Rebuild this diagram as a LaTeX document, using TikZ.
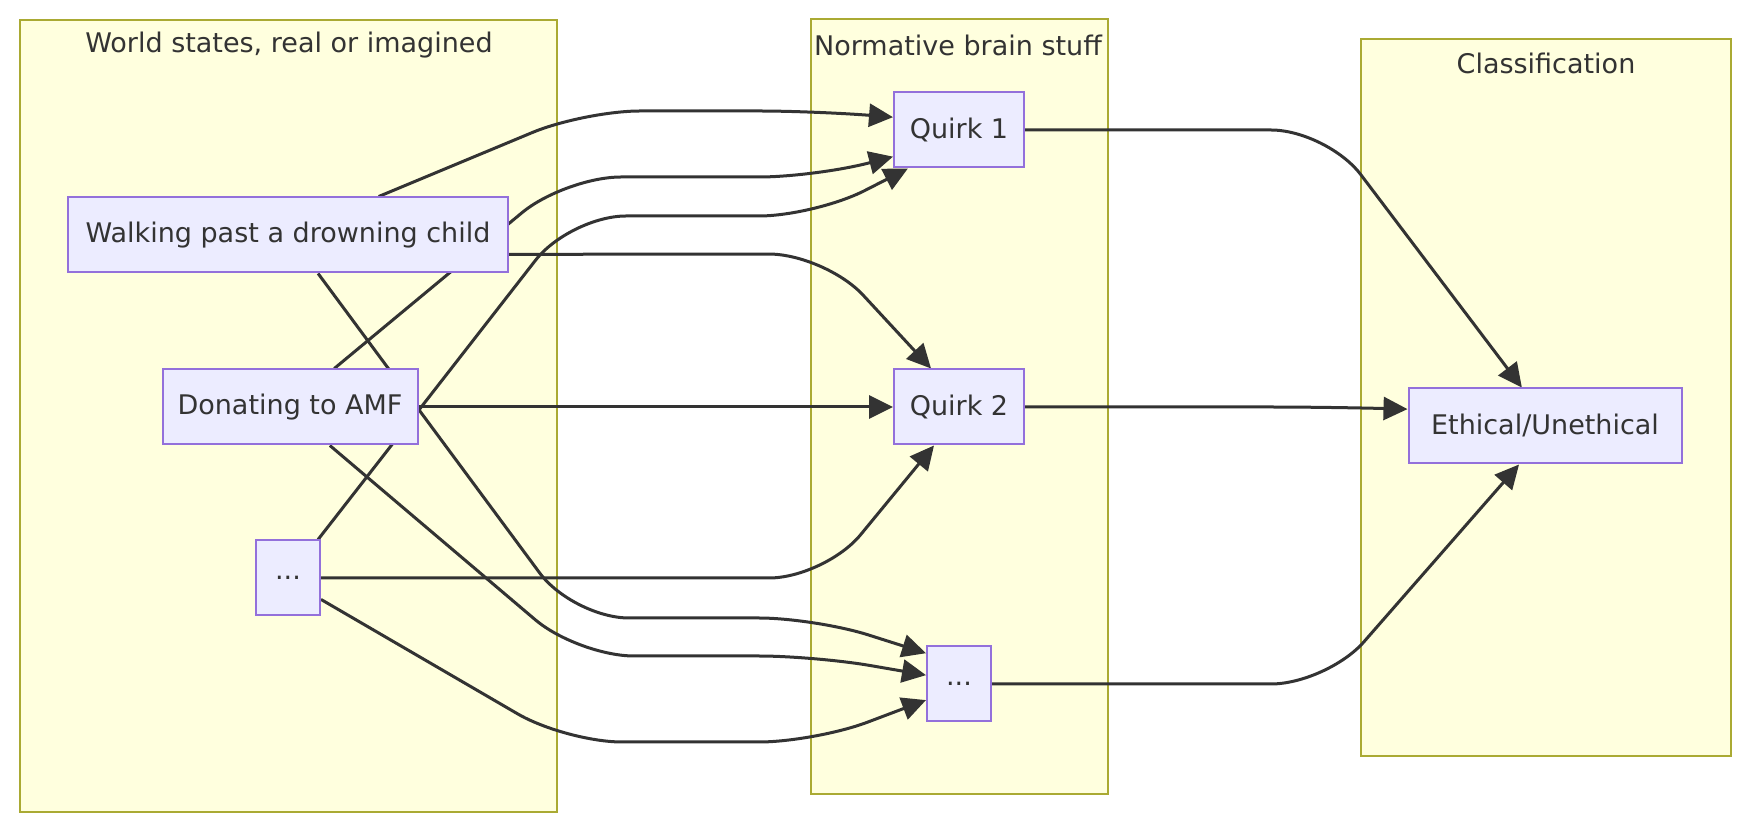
\documentclass[tikz,border=0pt]{standalone}
\usepackage{fontspec}
\setmainfont{DejaVu Sans}
\usepackage{tikz}
\usetikzlibrary{arrows.meta,positioning}

\definecolor{nodefill}{HTML}{ECECFF}
\definecolor{nodeline}{HTML}{9370DB}
\definecolor{groupfill}{HTML}{FFFFDE}
\definecolor{groupline}{HTML}{AAAA33}
\definecolor{inkgray}{HTML}{333333}

\pgfdeclarelayer{groups}
\pgfdeclarelayer{edges}
\pgfsetlayers{groups,edges,main}

\begin{document}
\begin{tikzpicture}[x=0.5pt, y=-0.5pt,
    every node/.style={font=\fontsize{13.5}{16}\selectfont, text=inkgray},
    box/.style={draw=nodeline, fill=nodefill, line width=1pt, minimum height=37.5pt, inner sep=0pt},
    group/.style={draw=groupline, fill=groupfill, line width=1pt},
    link/.style={draw=inkgray, line width=1.5pt, rounded corners=28pt, -{Triangle[length=12pt,width=11.5pt]}}]

    \useasboundingbox (0,0) rectangle (1756,838);

    % draw the three groups
    \begin{pgfonlayer}{groups}
    \fill[white] (0,0) rectangle (1756,838);
    \draw[group] (20,20) rectangle (557,812);
    \draw[group] (811,19) rectangle (1108,794);
    \draw[group] (1361,39) rectangle (1731,756);
    \end{pgfonlayer}

    % draw group titles
    \node (worldTitle) at (289,45) {World states, real or imagined};
    \node (brainTitle) at (958,45) {Normative brain stuff};
    \node (classTitle) at (1546,63) {Classification};

    % draw nodes
    \node[box, minimum width=220pt] (walk) at (288,235) {Walking past a drowning child};
    \node[box, minimum width=127.5pt] (amf) at (290,407) {Donating to AMF};
    \node[box, minimum width=32pt] (more) at (288,578) {...};
    \node[box, minimum width=65pt] (quirkA) at (959,130) {Quirk 1};
    \node[box, minimum width=65pt] (quirkB) at (959,407) {Quirk 2};
    \node[box, minimum width=32pt] (quirkN) at (959,684) {...};
    \node[box, minimum width=136.5pt] (verdict) at (1545,426) {Ethical/Unethical};

    \begin{pgfonlayer}{edges}
    % world states to quirk 1
    \draw[link] (walk.23) -- (584,111) -- (815,111) -- (quirkA.169);
    \draw[link] (amf.41) -- (565,177) -- (815,177) -- (quirkA.202);
    \draw[link] (more.52) -- (570,216) -- (815,216) -- (quirkA.217);

    % world states to quirk 2
    \draw[link] (walk.-5) -- (825,254) -- (quirkB.126);
    \draw[link] (amf.east) -- (quirkB.west);
    \draw[link] (more.east) -- (825,578) -- (quirkB.237);

    % world states to the other quirks
    \draw[link] (walk.-52) -- (573,618) -- (815,618) -- (quirkN.137);
    \draw[link] (amf.-44) -- (578,656) -- (815,656) -- (quirkN.165);
    \draw[link] (more.-33) -- (566,742) -- (815,742) -- (quirkN.206);

    % quirks to classification
    \draw[link] (quirkA.east) -- (1327,130) -- (verdict.121);
    \draw[link] (quirkB.east) -- (1325,407) -- (verdict.173);
    \draw[link] (quirkN.east) -- (1327,684) -- (verdict.236);
    \end{pgfonlayer}

\end{tikzpicture}
\end{document}
